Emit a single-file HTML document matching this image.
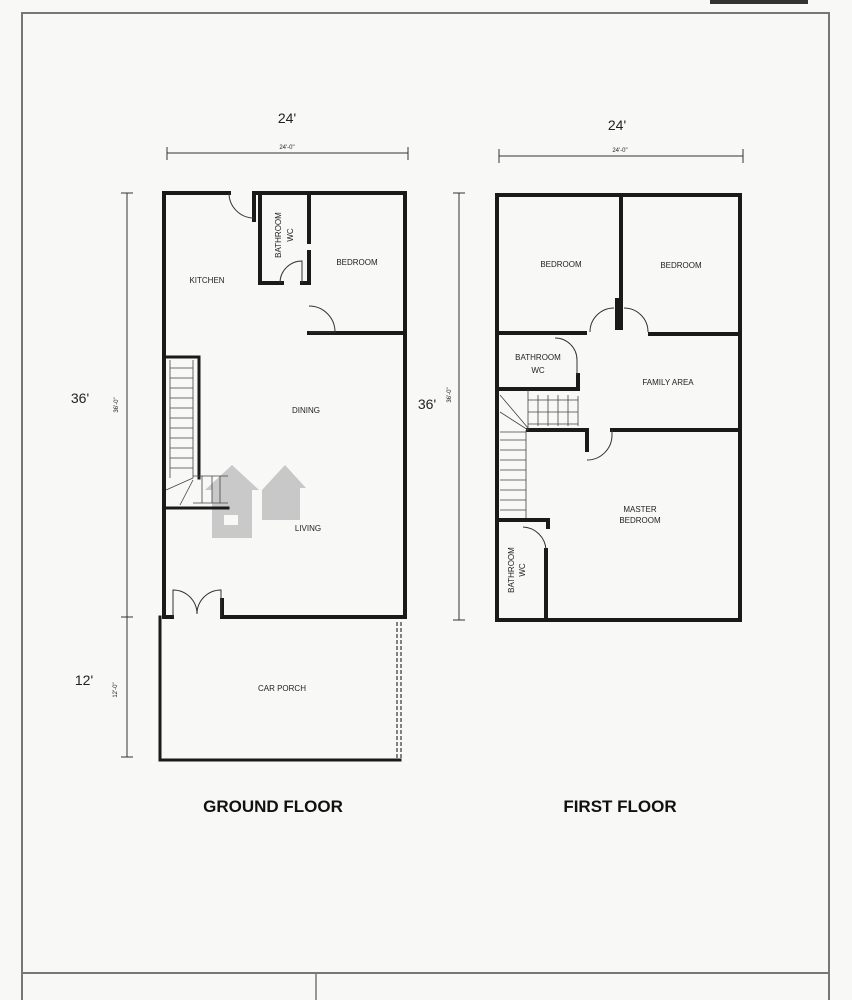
<!DOCTYPE html>
<html><head><meta charset="utf-8"><style>
html,body{margin:0;padding:0;background:#f8f8f7;}
svg{display:block}
text{font-family:"Liberation Sans",sans-serif;fill:#222}
.lbl{font-size:8px;}
.w{stroke:#1a1a1a;fill:none;stroke-linecap:square}
.t{stroke:#333;fill:none;stroke-width:1}
</style></head><body>
<svg width="852" height="1000" viewBox="0 0 852 1000" xmlns="http://www.w3.org/2000/svg">
<rect x="0" y="0" width="852" height="1000" fill="#f8f8f7"/>
<rect x="710" y="0" width="98" height="4" fill="#333"/>
<rect x="22" y="13" width="807" height="1000" fill="none" stroke="#777" stroke-width="2"/>
<line x1="22" y1="973" x2="829" y2="973" stroke="#777" stroke-width="2"/>
<line x1="316" y1="973" x2="316" y2="1000" stroke="#777" stroke-width="1.5"/>
<g fill="#bdbdbd" opacity="0.8">
<polygon points="205,490 232,465 259,490 252,490 252,538 212,538 212,490"/>
<polygon points="262,490 285,465 306,488 300,488 300,520 262,520"/>
</g>
<rect x="224" y="515" width="14" height="10" fill="#f8f8f7"/>

<text x="287" y="123" font-size="14" text-anchor="middle">24'</text>
<line x1="167" y1="153" x2="408" y2="153" class="t"/>
<line x1="167" y1="147" x2="167" y2="160" class="t"/><line x1="408" y1="147" x2="408" y2="160" class="t"/>
<text x="287" y="149" font-size="6" text-anchor="middle">24'-0"</text>
<line x1="127" y1="193" x2="127" y2="757" class="t"/>
<line x1="121" y1="193" x2="133" y2="193" class="t"/><line x1="121" y1="617" x2="133" y2="617" class="t"/><line x1="121" y1="757" x2="133" y2="757" class="t"/>
<text x="118" y="405" font-size="6" transform="rotate(-90 118 405)" text-anchor="middle">36'-0"</text>
<text x="117" y="690" font-size="6" transform="rotate(-90 117 690)" text-anchor="middle">12'-0"</text>
<text x="80" y="403" font-size="14" text-anchor="middle">36'</text>
<text x="84" y="685" font-size="14" text-anchor="middle">12'</text>

<g class="w" stroke-width="4">
<polyline points="229,193 164,193 164,617"/>
<polyline points="254,220 254,193 405,193 405,617 400,617"/>
<polyline points="400,617 222,617 222,600"/>
<polyline points="172,617 164,617"/>
<polyline points="260,193 260,283 282,283"/>
<polyline points="309,193 309,242"/>
<polyline points="302,283 309,283 309,252"/>
<polyline points="309,333 405,333"/>
</g>
<g class="w" stroke-width="3">
<polyline points="160,617 160,760 400,760"/>
<polyline points="167,357 199,357 199,478"/>
<polyline points="164,508 228,508"/>
</g>
<line x1="397" y1="622" x2="397" y2="758" stroke="#333" stroke-width="1.2" stroke-dasharray="4,2"/>
<line x1="401" y1="622" x2="401" y2="758" stroke="#333" stroke-width="1.2" stroke-dasharray="4,2"/>
<g class="t">
<path d="M229,193 A25,25 0 0 0 254,218"/>
<path d="M280,283 A22,22 0 0 1 302,261 L302,283"/>
<path d="M309,306 A26,26 0 0 1 335,332 L309,332"/>
<path d="M173,617 L173,590 A24,24 0 0 1 197,614"/>
<path d="M221,617 L221,590 A24,24 0 0 0 197,614"/>
</g>
<g stroke="#444" stroke-width="0.8">
<line x1="170" y1="360" x2="170" y2="478"/><line x1="193" y1="360" x2="193" y2="478"/>
<line x1="170" y1="368" x2="193" y2="368"/><line x1="170" y1="378" x2="193" y2="378"/><line x1="170" y1="388" x2="193" y2="388"/><line x1="170" y1="398" x2="193" y2="398"/><line x1="170" y1="408" x2="193" y2="408"/><line x1="170" y1="418" x2="193" y2="418"/><line x1="170" y1="428" x2="193" y2="428"/><line x1="170" y1="438" x2="193" y2="438"/><line x1="170" y1="448" x2="193" y2="448"/><line x1="170" y1="458" x2="193" y2="458"/><line x1="170" y1="468" x2="193" y2="468"/>
<line x1="193" y1="476" x2="228" y2="476"/><line x1="193" y1="503" x2="228" y2="503"/>
<line x1="202" y1="476" x2="202" y2="503"/><line x1="212" y1="476" x2="212" y2="503"/><line x1="220" y1="476" x2="220" y2="503"/>
<line x1="166" y1="490" x2="193" y2="478"/><line x1="180" y1="505" x2="193" y2="480"/>
</g>
<text x="207" y="283" class="lbl" text-anchor="middle">KITCHEN</text>
<text x="357" y="265" class="lbl" text-anchor="middle">BEDROOM</text>
<text x="281" y="235" class="lbl" transform="rotate(-90 281 235)" text-anchor="middle">BATHROOM</text>
<text x="293" y="235" class="lbl" transform="rotate(-90 293 235)" text-anchor="middle">WC</text>
<text x="306" y="413" class="lbl" text-anchor="middle">DINING</text>
<text x="308" y="531" class="lbl" text-anchor="middle">LIVING</text>
<text x="282" y="691" class="lbl" text-anchor="middle">CAR PORCH</text>
<text x="273" y="812" font-size="17" font-weight="bold" text-anchor="middle" style="fill:#111">GROUND FLOOR</text>

<text x="617" y="130" font-size="14" text-anchor="middle">24'</text>
<line x1="499" y1="156" x2="743" y2="156" class="t"/>
<line x1="499" y1="149" x2="499" y2="163" class="t"/><line x1="743" y1="149" x2="743" y2="163" class="t"/>
<text x="620" y="152" font-size="6" text-anchor="middle">24'-0"</text>
<line x1="459" y1="193" x2="459" y2="620" class="t"/>
<line x1="453" y1="193" x2="465" y2="193" class="t"/><line x1="453" y1="620" x2="465" y2="620" class="t"/>
<text x="451" y="395" font-size="6" transform="rotate(-90 451 395)" text-anchor="middle">36'-0"</text>
<text x="427" y="409" font-size="14" text-anchor="middle">36'</text>

<g class="w" stroke-width="4">
<rect x="497" y="195" width="243" height="425"/>
<line x1="621" y1="195" x2="621" y2="328"/>
<line x1="617" y1="300" x2="617" y2="328"/>
<polyline points="497,333 585,333"/>
<polyline points="650,334 740,334"/>
<polyline points="497,389 578,389 578,375"/>
<polyline points="528,430 587,430 587,450"/>
<polyline points="612,430 740,430"/>
<polyline points="497,520 548,520 548,527"/>
<line x1="546" y1="550" x2="546" y2="620"/>
</g>
<g class="t">
<path d="M590,332 A24,24 0 0 1 614,308"/>
<path d="M624,308 A24,24 0 0 1 648,332"/>
<path d="M555,338 A22,22 0 0 1 577,360 L577,375"/>
<path d="M587,460 A25,25 0 0 0 612,435 L612,430"/>
<path d="M523,527 A24,24 0 0 1 546,550"/>
</g>
<g stroke="#444" stroke-width="0.8">
<line x1="528" y1="390" x2="528" y2="430"/><line x1="578" y1="396" x2="578" y2="426"/>
<line x1="538" y1="395" x2="538" y2="426"/><line x1="548" y1="395" x2="548" y2="426"/><line x1="558" y1="395" x2="558" y2="426"/><line x1="568" y1="395" x2="568" y2="426"/>
<line x1="528" y1="400" x2="578" y2="400"/><line x1="528" y1="412" x2="578" y2="412"/><line x1="528" y1="424" x2="578" y2="424"/>
<line x1="500" y1="395" x2="528" y2="428"/><line x1="500" y1="412" x2="528" y2="430"/>
<line x1="500" y1="432" x2="526" y2="432"/>
<line x1="500" y1="440" x2="526" y2="440"/><line x1="500" y1="450" x2="526" y2="450"/><line x1="500" y1="460" x2="526" y2="460"/><line x1="500" y1="470" x2="526" y2="470"/><line x1="500" y1="480" x2="526" y2="480"/><line x1="500" y1="490" x2="526" y2="490"/><line x1="500" y1="500" x2="526" y2="500"/><line x1="500" y1="510" x2="526" y2="510"/>
<line x1="526" y1="430" x2="526" y2="518"/>
</g>
<text x="561" y="267" class="lbl" text-anchor="middle">BEDROOM</text>
<text x="681" y="268" class="lbl" text-anchor="middle">BEDROOM</text>
<text x="538" y="360" class="lbl" text-anchor="middle">BATHROOM</text>
<text x="538" y="373" class="lbl" text-anchor="middle">WC</text>
<text x="668" y="385" class="lbl" text-anchor="middle">FAMILY AREA</text>
<text x="640" y="512" class="lbl" text-anchor="middle">MASTER</text>
<text x="640" y="523" class="lbl" text-anchor="middle">BEDROOM</text>
<text x="514" y="570" class="lbl" transform="rotate(-90 514 570)" text-anchor="middle">BATHROOM</text>
<text x="525" y="570" class="lbl" transform="rotate(-90 525 570)" text-anchor="middle">WC</text>
<text x="620" y="812" font-size="17" font-weight="bold" text-anchor="middle" style="fill:#111">FIRST FLOOR</text>
</svg>
</body></html>
